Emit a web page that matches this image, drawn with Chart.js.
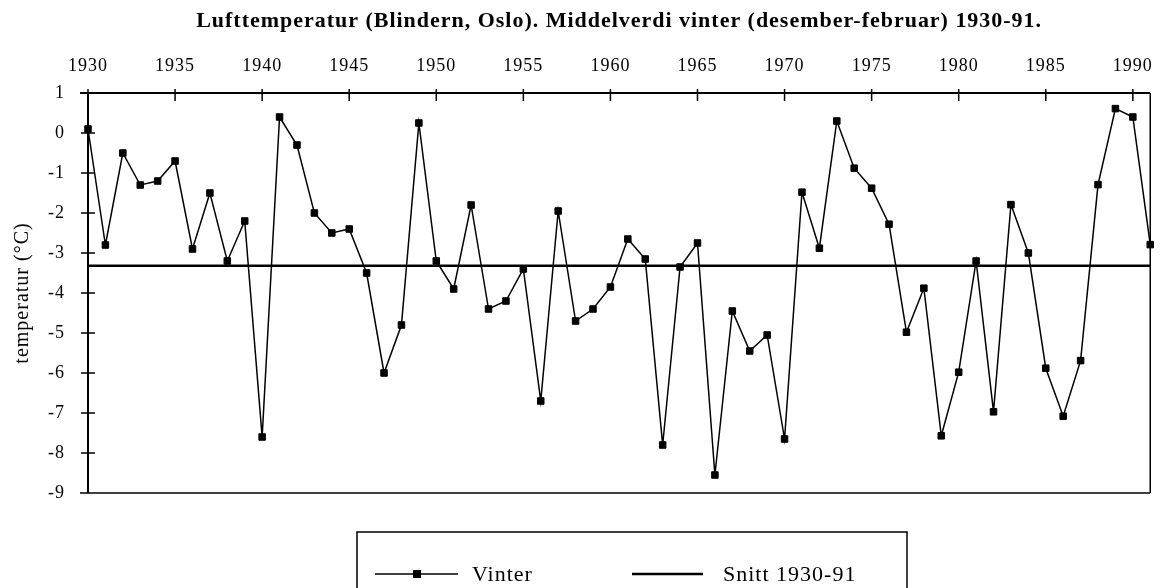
<!DOCTYPE html>
<html lang="no">
<head>
<meta charset="UTF-8" />
<title>Lufttemperatur Blindern</title>
<script src="https://cdn.jsdelivr.net/npm/chart.js"></script>
<style>
  html, body { margin: 0; padding: 0; background: #fff; }
</style>
</head>
<body>
<canvas id="vinterChart" width="1169" height="588"></canvas>
<script>
// Data lest av figuren
const aar = [1930, 1931, 1932, 1933, 1934, 1935, 1936, 1937, 1938, 1939,
             1940, 1941, 1942, 1943, 1944, 1945, 1946, 1947, 1948, 1949,
             1950, 1951, 1952, 1953, 1954, 1955, 1956, 1957, 1958, 1959,
             1960, 1961, 1962, 1963, 1964, 1965, 1966, 1967, 1968, 1969,
             1970, 1971, 1972, 1973, 1974, 1975, 1976, 1977, 1978, 1979,
             1980, 1981, 1982, 1983, 1984, 1985, 1986, 1987, 1988, 1989,
             1990, 1991];
const vinter = [0.1, -2.8, -0.5, -1.3, -1.2, -0.7, -2.9, -1.5, -3.2, -2.2,
                -7.6, 0.4, -0.3, -2.0, -2.5, -2.4, -3.5, -6.0, -4.8, 0.25,
                -3.2, -3.9, -1.8, -4.4, -4.2, -3.4, -6.7, -1.95, -4.7, -4.4,
                -3.85, -2.65, -3.15, -7.8, -3.35, -2.75, -8.55, -4.45, -5.45, -5.05,
                -7.65, -1.48, -2.88, 0.3, -0.88, -1.38, -2.28, -4.98, -3.88, -7.57,
                -5.98, -3.2, -6.97, -1.79, -3.0, -5.88, -7.08, -5.69, -1.29, 0.61,
                0.4, -2.79];
const snittAar = [1930, 1991];
const snittVerdi = [-3.32, -3.32];
const xTicks = [1930, 1935, 1940, 1945, 1950, 1955, 1960, 1965, 1970, 1975, 1980, 1985, 1990];
const yTicks = [1, 0, -1, -2, -3, -4, -5, -6, -7, -8, -9];

const tittel = "Lufttemperatur (Blindern, Oslo). Middelverdi vinter (desember-februar) 1930-91.";
const yTittel = "temperatur (°C)";
const serif = "'Liberation Serif', 'DejaVu Serif', serif";

// ramme og tick-streker som krysser aksene
const rammePlugin = {
  id: "ramme",
  beforeLayout(chart) { chart.ctx.letterSpacing = "1px"; },
  beforeDraw(chart) { chart.ctx.letterSpacing = "1px"; },
  beforeDatasetsDraw(chart) {
    const { ctx, chartArea: a, scales } = chart;
    ctx.save();
    ctx.strokeStyle = "#000";
    ctx.lineCap = "butt";
    ctx.lineWidth = 2;
    ctx.beginPath();
    ctx.moveTo(a.left - 8, a.top); ctx.lineTo(a.right, a.top);
    ctx.moveTo(a.left, a.top - 1); ctx.lineTo(a.left, a.bottom);
    ctx.stroke();
    ctx.lineWidth = 1.5;
    ctx.beginPath();
    ctx.moveTo(a.left - 8, a.bottom); ctx.lineTo(a.right, a.bottom);
    ctx.moveTo(a.right, a.top); ctx.lineTo(a.right, a.bottom);
    xTicks.forEach((v) => {
      const px = scales.x.getPixelForValue(v);
      ctx.moveTo(px, a.top - 4); ctx.lineTo(px, a.top + 8);
    });
    yTicks.forEach((v) => {
      const py = scales.y.getPixelForValue(v);
      ctx.moveTo(a.left - 7, py); ctx.lineTo(a.left + 7, py);
    });
    ctx.stroke();
    ctx.restore();
  },
  afterDraw(chart) {
    const { ctx, chartArea: a } = chart;
    ctx.save();
    // tittel
    ctx.font = "bold 22px " + serif;
    ctx.letterSpacing = "0px";
    const w0 = ctx.measureText(tittel).width;
    const sp = Math.max(0, (846 - w0) / tittel.length);
    ctx.letterSpacing = sp.toFixed(2) + "px";
    ctx.fillStyle = "#000";
    ctx.textAlign = "center";
    ctx.textBaseline = "alphabetic";
    ctx.fillText(tittel, (a.left + a.right) / 2, 27);

    // forklaring
    const ds = chart.data.datasets;
    ctx.letterSpacing = "1px";
    ctx.strokeStyle = "#000";
    ctx.lineWidth = 1.5;
    ctx.strokeRect(357, 532, 550, 80);
    ctx.beginPath();
    ctx.moveTo(375, 574); ctx.lineTo(458, 574);
    ctx.stroke();
    ctx.fillRect(413, 570, 8, 8);
    ctx.lineWidth = 2.5;
    ctx.beginPath();
    ctx.moveTo(632, 574); ctx.lineTo(703, 574);
    ctx.stroke();
    ctx.font = "22px " + serif;
    ctx.textAlign = "left";
    ctx.fillText(ds[0].label, 472, 581);
    ctx.fillText(ds[1].label, 723, 581);
    ctx.restore();
  }
};

const ctx = document.getElementById("vinterChart").getContext("2d");
new Chart(ctx, {
  type: "line",
  data: {
    datasets: [
      {
        label: "Vinter",
        data: aar.map((a, i) => ({ x: a, y: vinter[i] })),
        borderColor: "#000",
        borderWidth: 1.5,
        pointStyle: "rect",
        pointRadius: 4.6,
        pointBorderWidth: 1,
        pointBackgroundColor: "#000",
        pointBorderColor: "#000",
        tension: 0,
        clip: false
      },
      {
        label: "Snitt 1930-91",
        data: snittAar.map((a, i) => ({ x: a, y: snittVerdi[i] })),
        borderColor: "#000",
        borderWidth: 2.6,
        pointRadius: 0,
        tension: 0,
        clip: false
      }
    ]
  },
  options: {
    responsive: false,
    animation: false,
    devicePixelRatio: 1,
    layout: { padding: { left: 0, top: 0, right: 10, bottom: 95 } },
    plugins: {
      legend: { display: false },
      title: { display: false },
      tooltip: { enabled: false }
    },
    scales: {
      x: {
        type: "linear",
        position: "top",
        min: 1930,
        max: 1991,
        afterBuildTicks: (s) => { s.ticks = xTicks.map((v) => ({ value: v })); },
        afterFit: (s) => { s.height = 93; },
        grid: { display: false, drawTicks: false },
        border: { display: false },
        ticks: {
          color: "#000",
          font: { family: serif, size: 18 },
          padding: 16,
          maxRotation: 0,
          autoSkip: false,
          callback: (v) => String(v)
        }
      },
      y: {
        min: -9,
        max: 1,
        afterBuildTicks: (s) => { s.ticks = yTicks.map((v) => ({ value: v })); },
        afterFit: (s) => { s.width = 88; },
        grid: { display: false, drawTicks: false },
        border: { display: false },
        ticks: {
          color: "#000",
          font: { family: serif, size: 18 },
          padding: 23
        },
        title: {
          display: true,
          text: yTittel,
          color: "#000",
          font: { family: serif, size: 20 },
          padding: { top: 11, bottom: 0 }
        }
      }
    }
  },
  plugins: [rammePlugin]
});
</script>
</body>
</html>
